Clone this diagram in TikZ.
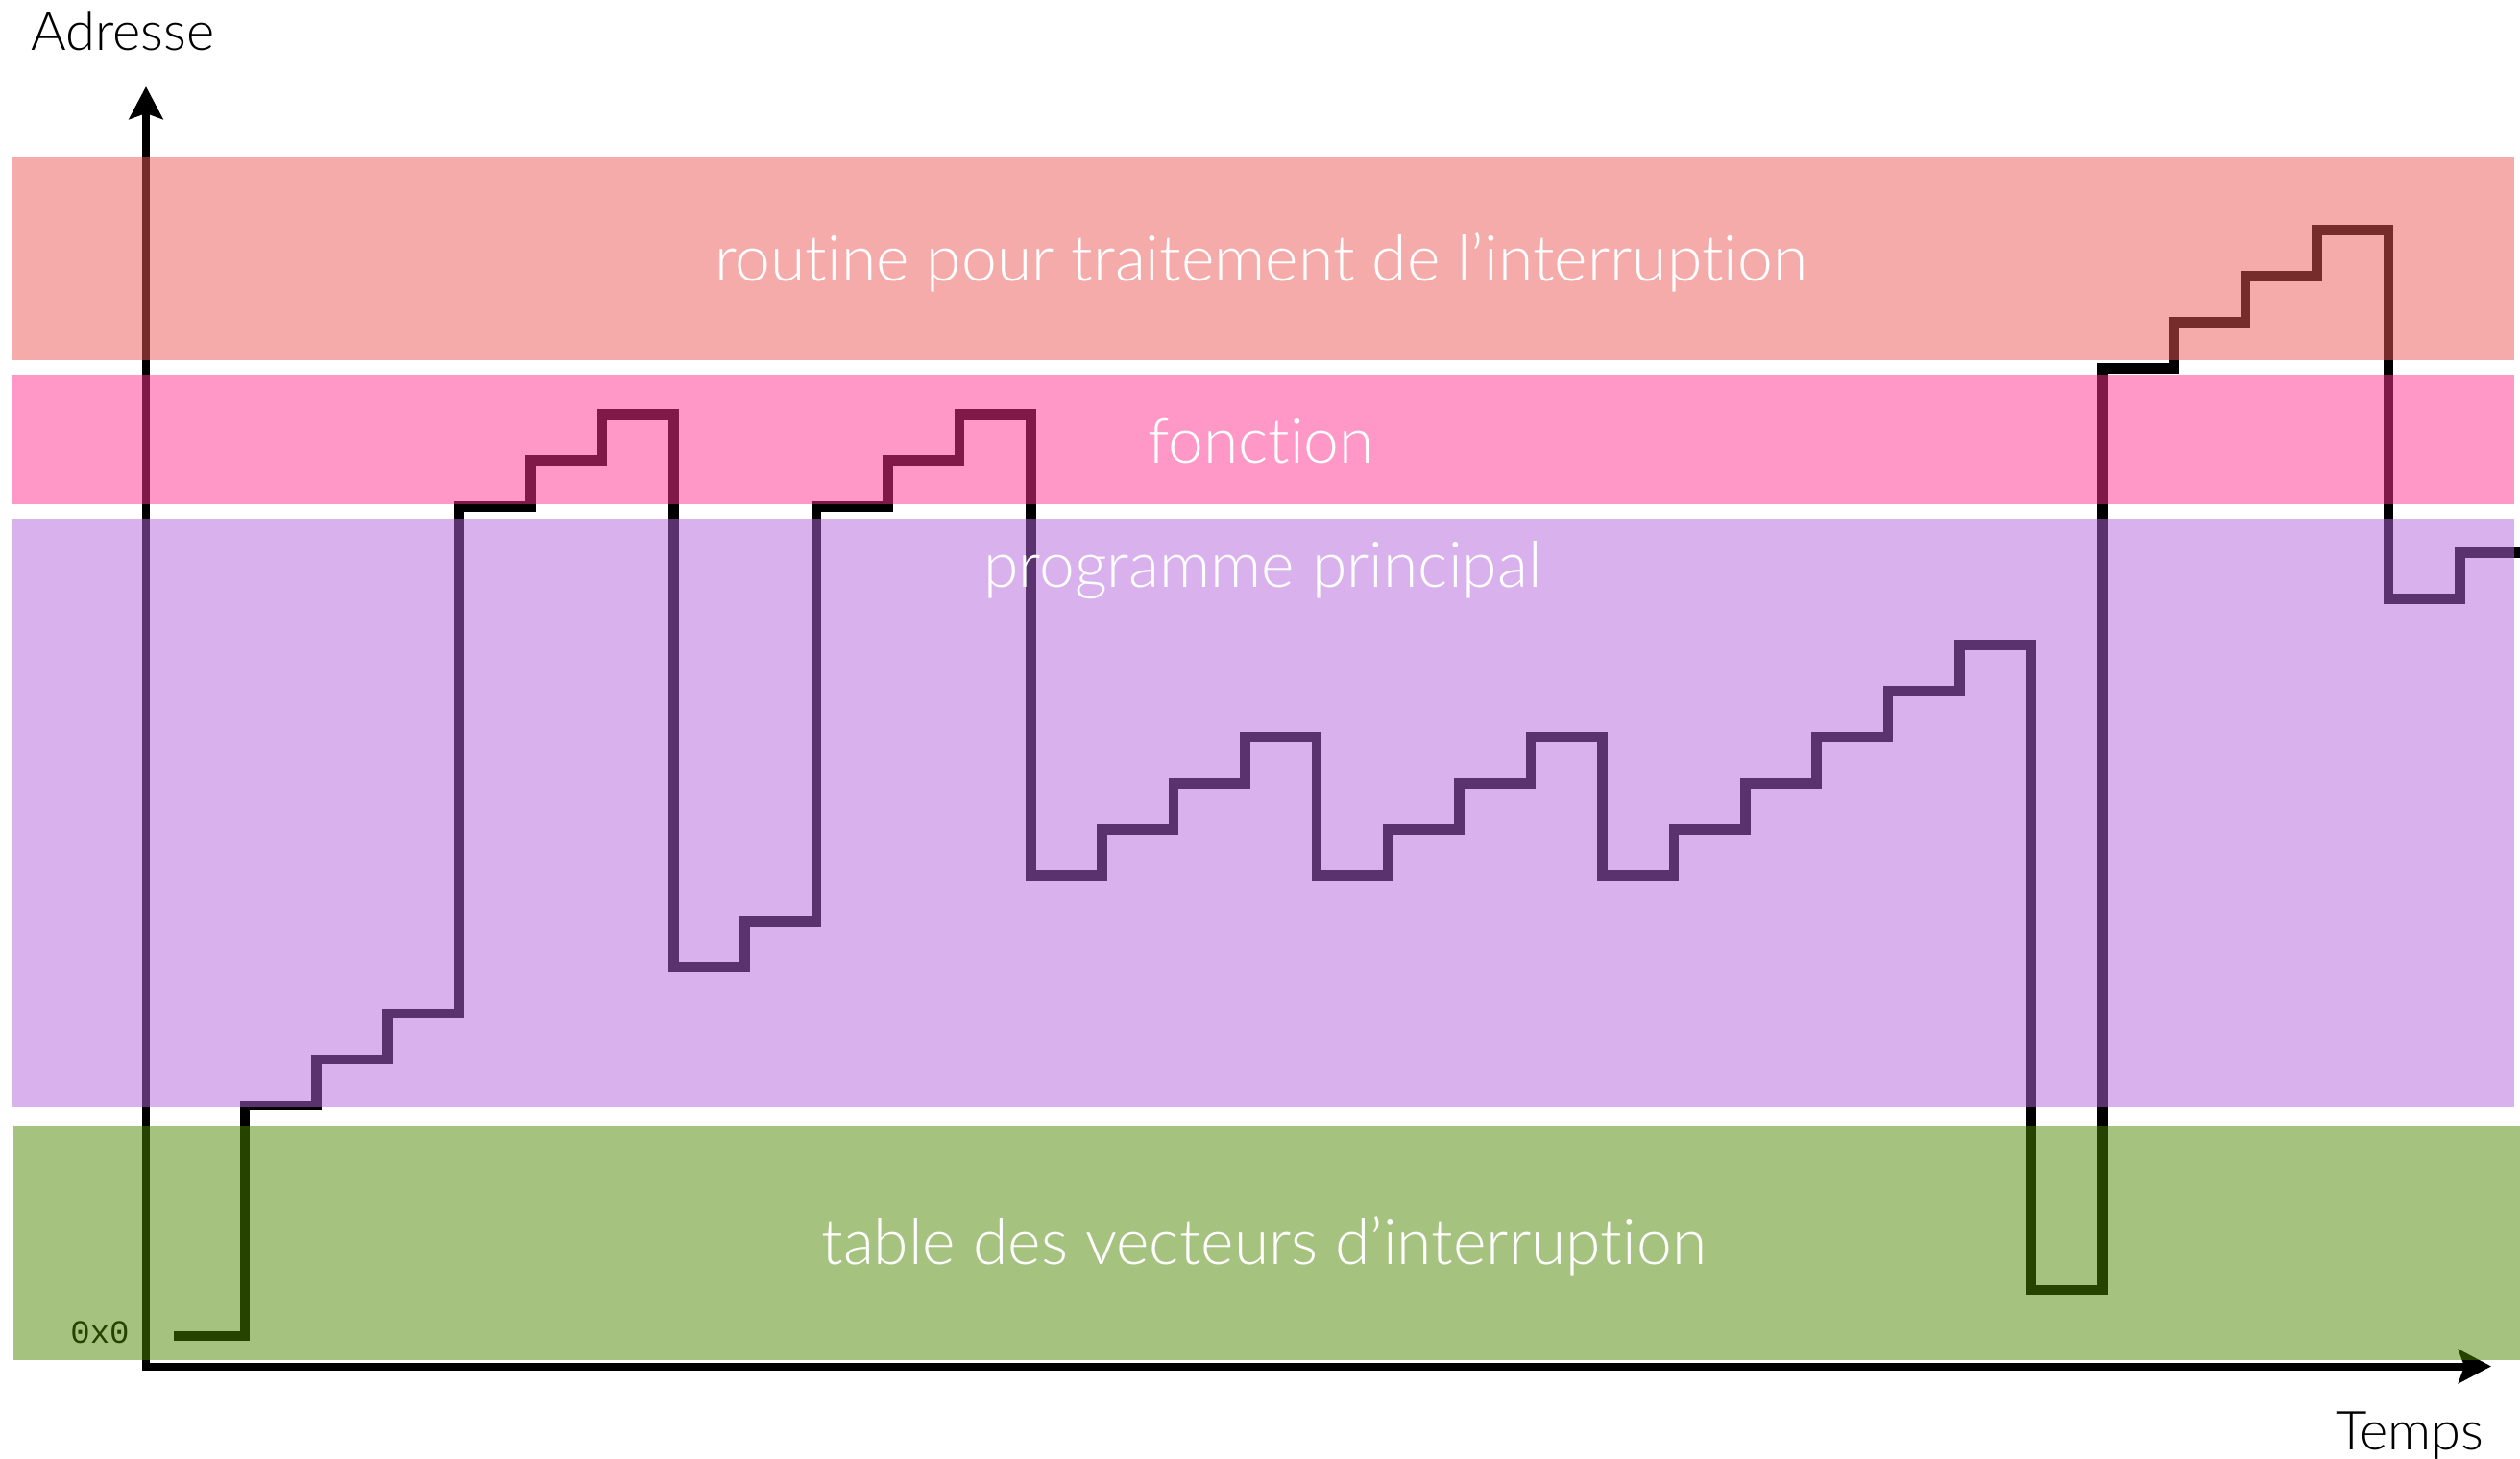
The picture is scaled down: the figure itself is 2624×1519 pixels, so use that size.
\documentclass[tikz,border=0pt]{standalone}
\usepackage{fontspec}
\setmainfont{Lato Light}[Ligatures=NoCommon]
\newfontfamily\codefont{Liberation Mono}
\usetikzlibrary{arrows.meta}
\definecolor{bandred}{RGB}{238,88,88}
\definecolor{bandpink}{RGB}{255,48,144}
\definecolor{bandpurple}{RGB}{180,102,220}
\definecolor{bandgreen}{RGB}{78,134,0}
\begin{document}
\begin{tikzpicture}[x=0.5pt,y=-0.5pt,
  axisline/.style={line width=4pt, line join=miter, {Stealth[length=17pt,width=17.5pt,inset=3pt]}-{Stealth[length=17pt,width=17.5pt,inset=3pt]}},
  signal/.style={line width=5.25pt, line join=miter, line cap=butt},
  band/.style={fill opacity=0.5, draw=none},
  bandlabel/.style={text=white, inner sep=0pt, anchor=base, font=\fontsize{33}{40}\selectfont},
  axislabel/.style={text=black, inner sep=0pt, font=\fontsize{28}{33}\selectfont}]
\useasboundingbox (0,0) rectangle (2624,1519);
% axes
\draw[axisline] (152,90) -- (152,1422.5) -- (2594,1422.5);
% origin label
\node[inner sep=0pt, anchor=base east, font=\codefont\fontsize{17}{20}\selectfont] (origin) at (135,1398) {0x0};
% address trace
\begin{scope}[shift={(180.5,1391)}, x=37.2pt, y=23.985pt]
\draw[signal] (0,0) -| (1,5) -| (2,6) -| (3,7) -| (4,18) -| (5,19) -| (6,20)
  -| (7,8) -| (8,9) -| (9,18) -| (10,19) -| (11,20) -| (12,10) -| (13,11)
  -| (14,12) -| (15,13) -| (16,10) -| (17,11) -| (18,12) -| (19,13) -| (20,10)
  -| (21,11) -| (22,12) -| (23,13) -| (24,14) -| (25,15) -| (26,1) -| (27,21)
  -| (28,22) -| (29,23) -| (30,24) -| (31,16) -| (32,17) -- (32.84,17);
\end{scope}
% bands
\fill[band, bandred] (12,163) rectangle (2618,375);
\fill[band, bandpink] (12,390) rectangle (2618,525);
\fill[band, bandpurple] (12,540) rectangle (2618,1153);
\fill[band, bandgreen] (14,1172) rectangle (2624,1416);
% band labels
\node[bandlabel] (lroutine) at (1313,292.7) {routine pour traitement de l’interruption};
\node[bandlabel] (lfonction) at (1313,482) {fonction};
\node[bandlabel] (lprog) at (1315,611.7) {programme principal};
\node[bandlabel] (ltable) at (1316,1316.7) {table des vecteurs d’interruption};
% axis labels
\node[axislabel, anchor=base west] (ladresse) at (32,53) {Adresse};
\node[axislabel, anchor=base east] (ltemps) at (2587,1509) {Temps};
\end{tikzpicture}
\end{document}
